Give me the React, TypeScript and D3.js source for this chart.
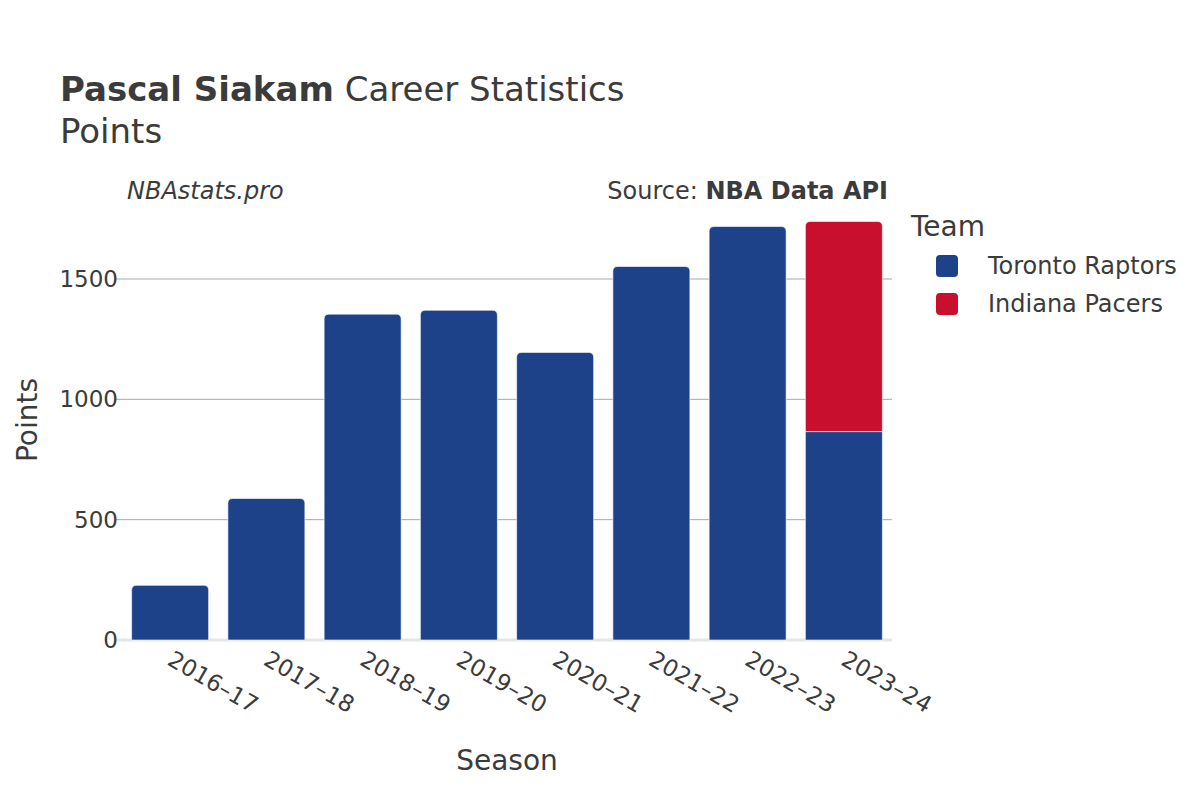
import React from "react";
import * as d3 from "d3";

const seasons = ["2016–17", "2017–18", "2018–19", "2019–20", "2020–21", "2021–22", "2022–23", "2023–24"];
const torontoPoints = [227, 588, 1354, 1370, 1195, 1552, 1718, 866];
const indianaPoints = [0, 0, 0, 0, 0, 0, 0, 873];
const teams = ["Toronto Raptors", "Indiana Pacers"];
const teamColors = ["#1d428a", "#c8102e"];
const yTicks = [0, 500, 1000, 1500];

const FONT = "'DejaVu Sans', sans-serif";
const TEXT = "#3b3b3b";

function topRoundedRect(x: number, y: number, w: number, h: number, r: number) {
  const rr = Math.min(r, h / 2, w / 2);
  return `M${x},${y + h}V${y + rr}Q${x},${y} ${x + rr},${y}H${x + w - rr}Q${x + w},${y} ${x + w},${y + rr}V${y + h}Z`;
}

export default function App() {
  const W = 1200, H = 800;
  const left = 122, right = 892, bottom = 640;
  const x = d3.scaleBand<string>().domain(seasons).range([left, right]).paddingInner(0.2).paddingOuter(0.1);
  const y = d3.scaleLinear().domain([0, 1500]).range([bottom, 279]);

  const rows = seasons.map((s, i) => {
    const stack: { team: number; y0: number; y1: number }[] = [];
    let acc = 0;
    [torontoPoints[i], indianaPoints[i]].forEach((v, t) => {
      if (v > 0) {
        stack.push({ team: t, y0: acc, y1: acc + v });
        acc += v;
      }
    });
    return { s, stack };
  });

  return (
    <svg width={W} height={H} style={{ position: "absolute", left: 0, top: 0, background: "#fff" }} fontFamily={FONT}>
      <rect x={0} y={0} width={W} height={H} fill="#fff" />
      {yTicks.filter(t => t > 0).map(t => (
        <line key={t} x1={115} x2={right} y1={y(t)} y2={y(t)} stroke="#a8a8a8" strokeWidth={1} />
      ))}
      <line x1={115} x2={right} y1={y(0)} y2={y(0)} stroke="#e6e6e6" strokeWidth={3} />
      {yTicks.map(t => (
        <text key={t} x={118} y={y(t)} dy="0.35em" textAnchor="end" fontSize={23} fill={TEXT}>{t}</text>
      ))}
      {rows.map(r => r.stack.map((seg, k) => {
        const bx = x(r.s)!;
        const bw = x.bandwidth();
        const yt = y(seg.y1), yb = y(seg.y0);
        const isTop = k === r.stack.length - 1;
        const d = isTop ? topRoundedRect(bx, yt, bw, yb - yt, 5) : `M${bx},${yb}V${yt}H${bx + bw}V${yb}Z`;
        return <path key={r.s + k} d={d} fill={teamColors[seg.team]} stroke="#ffffff" strokeOpacity={0.6} strokeWidth={1} />;
      }))}
      {seasons.map(s => {
        const cx = x(s)! + x.bandwidth() / 2;
        return (
          <text key={s} transform={`translate(${cx},${657}) rotate(30)`} fontSize={23} fill={TEXT} dy="0.35em">{s}</text>
        );
      })}
      <text x={60} y={101} fontSize={34} fill={TEXT}>
        <tspan fontWeight="bold">Pascal Siakam</tspan><tspan> Career Statistics</tspan>
      </text>
      <text x={60} y={143} fontSize={34} fill={TEXT}>Points</text>
      <text x={127} y={199} fontSize={24} fontStyle="italic" fill={TEXT}>NBAstats.pro</text>
      <text x={888} y={199} fontSize={24} textAnchor="end" fill={TEXT}>
        <tspan>Source: </tspan><tspan fontWeight="bold">NBA Data API</tspan>
      </text>
      <text x={507} y={770} fontSize={28} textAnchor="middle" fill={TEXT}>Season</text>
      <text transform={`translate(${37},${420}) rotate(-90)`} fontSize={28} textAnchor="middle" fill={TEXT}>Points</text>
      <text x={911} y={236} fontSize={28} fill={TEXT}>Team</text>
      {teams.map((t, i) => (
        <g key={t}>
          <rect x={936} y={255 + i * 38} width={22} height={22} rx={4} fill={teamColors[i]} />
          <text x={988} y={266 + i * 38} dy="0.35em" fontSize={24} fill={TEXT}>{t}</text>
        </g>
      ))}
    </svg>
  );
}
